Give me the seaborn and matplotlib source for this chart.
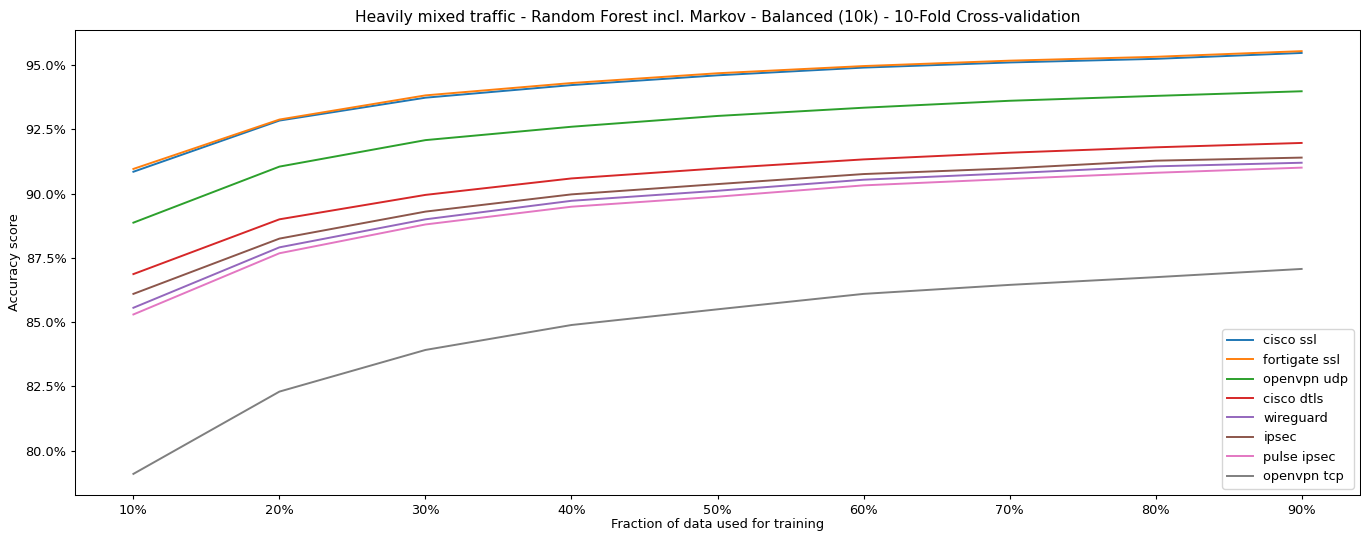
import matplotlib
matplotlib.use("Agg")
import matplotlib.pyplot as plt
from matplotlib.ticker import PercentFormatter
import numpy as np
import pandas as pd
import seaborn as sns

train_fraction = [10, 20, 30, 40, 50, 60, 70, 80, 90]

cisco_ssl = [90.85, 92.84, 93.73, 94.22, 94.60, 94.90, 95.10, 95.24, 95.47]
fortigate_ssl = [90.96, 92.88, 93.82, 94.30, 94.68, 94.96, 95.17, 95.32, 95.54]
openvpn_udp = [88.87, 91.05, 92.08, 92.60, 93.02, 93.34, 93.61, 93.80, 93.98]
cisco_dtls = [86.87, 89.00, 89.95, 90.59, 90.98, 91.33, 91.59, 91.80, 91.97]
wireguard = [85.56, 87.91, 89.00, 89.72, 90.11, 90.54, 90.79, 91.06, 91.20]
ipsec = [86.10, 88.25, 89.30, 89.97, 90.37, 90.76, 90.98, 91.28, 91.40]
pulse_ipsec = [85.30, 87.68, 88.80, 89.49, 89.88, 90.32, 90.57, 90.81, 91.01]
openvpn_tcp = [79.10, 82.30, 83.92, 84.89, 85.50, 86.10, 86.45, 86.75, 87.07]

series = {
    "cisco ssl": cisco_ssl,
    "fortigate ssl": fortigate_ssl,
    "openvpn udp": openvpn_udp,
    "cisco dtls": cisco_dtls,
    "wireguard": wireguard,
    "ipsec": ipsec,
    "pulse ipsec": pulse_ipsec,
    "openvpn tcp": openvpn_tcp,
}

rows = []
for name, values in series.items():
    for frac, acc in zip(train_fraction, values):
        rows.append({"fraction": frac, "accuracy": acc, "vpn": name})
df = pd.DataFrame(rows)

plt.rcParams["font.size"] = 9.3
plt.rcParams["axes.linewidth"] = 0.75
plt.rcParams["xtick.major.size"] = 3.2
plt.rcParams["ytick.major.size"] = 3.2
plt.rcParams["xtick.major.pad"] = 3
plt.rcParams["ytick.major.pad"] = 3

fig = plt.figure(figsize=(13.61, 5.34), dpi=100)
ax = fig.add_axes([0.0551, 0.073, 0.9442, 0.8708])

sns.lineplot(data=df, x="fraction", y="accuracy", hue="vpn",
             hue_order=list(series.keys()), palette="tab10",
             linewidth=1.4, ax=ax)

ax.set_xticks(train_fraction)
ax.xaxis.set_major_formatter(PercentFormatter(100, decimals=0))
ax.yaxis.set_major_formatter(PercentFormatter(100, decimals=1))
ax.set_xlabel("Fraction of data used for training", labelpad=1)
ax.set_ylabel("Accuracy score", labelpad=3)
ax.set_title("Heavily mixed traffic - Random Forest incl. Markov - Balanced (10k) - 10-Fold Cross-validation")
ax.legend(loc="lower right", title=None)

fig.savefig("out.png", dpi=100)
